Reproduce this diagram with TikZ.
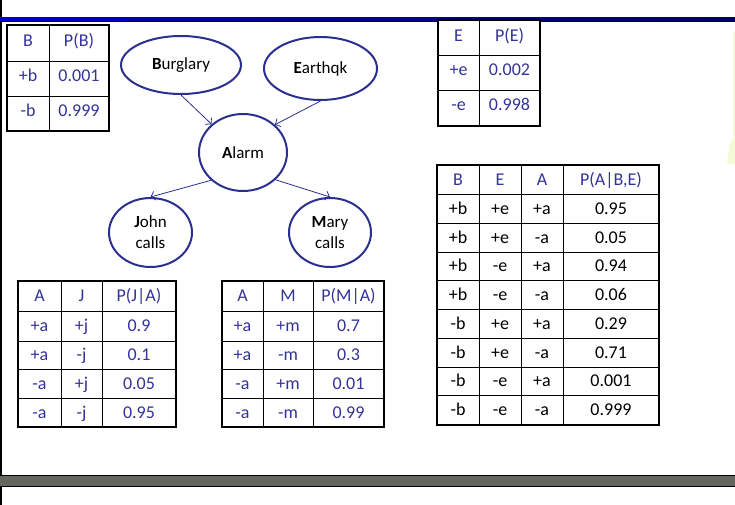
\documentclass[tikz,border=0pt]{standalone}
\usepackage{fontspec}
\setmainfont{Carlito}
\usetikzlibrary{shapes.geometric,arrows.meta}
\definecolor{tblue}{RGB}{51,51,153}
\definecolor{eblue}{RGB}{43,48,144}
\definecolor{bandgray}{RGB}{102,102,96}
\definecolor{paleyel}{RGB}{244,250,214}
\begin{document}
\begin{tikzpicture}[x=1pt,y=-1pt,
  bn/.style={ellipse, draw=eblue, line width=2pt, inner sep=0pt, align=center, text=black,
    font=\fontsize{17}{21}\selectfont},
  link/.style={draw=eblue, line width=0.8pt, -{Straight Barb[length=4pt,width=9pt]}},
  cell/.style={text=tblue, font=\fontsize{18}{21}\selectfont, text height=11.5pt, text depth=0pt, inner sep=0pt},
  cellk/.style={cell, text=black},
  gridline/.style={draw=black, line width=0.8pt},
  gridframe/.style={draw=black, line width=2pt}]
\useasboundingbox (0,0) rectangle (735,505);
\fill[white] (0,0) rectangle (735,505);
% top band
\fill[black] (0,16.7) rectangle (735,22.3);
\shade[left color={rgb,255:red,0;green,0;blue,195}, right color={rgb,255:red,0;green,0;blue,105}] (0,18) rectangle (735,21);
% bottom gray band
\fill[black] (0,474.8) rectangle (735,487);
\fill[bandgray] (0,476) rectangle (735,485.8);
% left edge line
\fill[black] (0,0) rectangle (1.6,16.7);
\fill[black] (0,22.3) rectangle (1.6,474.8);
\fill[black] (0,487) rectangle (1.6,505);
% pale sliver on right
\fill[paleyel] (733,32) -- (735,31) -- (735,164) -- (727,164) -- (730,142) -- (733,140) -- cycle;

% ---------- P(B) table ----------
\fill[white] (7,25) rectangle (109,131);
\draw[gridline] (49,25) -- (49,131);
\draw[gridline] (7,61) -- (109,61);
\draw[gridline] (7,96) -- (109,96);
\draw[gridframe] (7,25) rectangle (109,131);
\node[cell] (pb11) at (28,41) {B};
\node[cell] (pb12) at (79,41) {P(B)};
\node[cell] (pb21) at (28,75.5) {+b};
\node[cell] (pb22) at (79,75.5) {0.001};
\node[cell] (pb31) at (28,110.5) {-b};
\node[cell] (pb32) at (79,110.5) {0.999};

% ---------- P(E) table ----------
\fill[white] (438,20) rectangle (540,126);
\draw[gridline] (479,20) -- (479,126);
\draw[gridline] (438,55) -- (540,55);
\draw[gridline] (438,90) -- (540,90);
\draw[gridframe] (438,20) rectangle (540,126);
\node[cell] (pe11) at (458.5,35.5) {E};
\node[cell] (pe12) at (509.5,35.5) {P(E)};
\node[cell] (pe21) at (458.5,69.5) {+e};
\node[cell] (pe22) at (509.5,69.5) {0.002};
\node[cell] (pe31) at (458.5,105) {-e};
\node[cell] (pe32) at (509.5,105) {0.998};

% ---------- Bayes net ----------
\node[bn, minimum width=120pt, minimum height=58pt] (burg) at (181,65) {\textbf{B}urglary};
\node[bn, minimum width=113pt, minimum height=63pt] (earth) at (320.5,68.5) {\textbf{E}arthqk};
\node[bn, minimum width=88pt, minimum height=77pt] (alarm) at (243,152.5) {\textbf{A}larm};
\node[bn, minimum width=83pt, minimum height=69pt] (john) at (150.5,232.5) {\textbf{J}ohn\\calls};
\node[bn, minimum width=82pt, minimum height=69pt] (mary) at (330,232.5) {\textbf{M}ary\\calls};
\draw[link] (burg.south) -- (alarm.138);
\draw[link] (earth.south) -- (alarm.41);
\draw[link] (alarm.221) -- (john.north);
\draw[link] (alarm.320) -- (mary.north);

% ---------- P(J|A) table ----------
\fill[white] (18,281) rectangle (176,427);
\foreach \xx in {61,102} \draw[gridline] (\xx,281) -- (\xx,427);
\foreach \yy in {311,341,369,398} \draw[gridline] (18,\yy) -- (176,\yy);
\draw[gridframe] (18,281) rectangle (176,427);
\node[cell] (ja01) at (39.5,296) {A};
\node[cell] (ja02) at (81.5,296) {J};
\node[cell] (ja03) at (139,296) {P(J|A)};
\foreach \r/\yy/\a/\b/\p in {1/326/+a/+j/0.9, 2/355/+a/-j/0.1, 3/383.5/-a/+j/0.05, 4/412.5/-a/-j/0.95}{
  \node[cell] (ja\r1) at (39.5,\yy) {\a};
  \node[cell] (ja\r2) at (81.5,\yy) {\b};
  \node[cell] (ja\r3) at (139,\yy) {\p};
}

% ---------- P(M|A) table ----------
\fill[white] (222,281) rectangle (384,427);
\foreach \xx in {263,313} \draw[gridline] (\xx,281) -- (\xx,427);
\foreach \yy in {311,341,369,398} \draw[gridline] (222,\yy) -- (384,\yy);
\draw[gridframe] (222,281) rectangle (384,427);
\node[cell] (ma01) at (242.5,296) {A};
\node[cell] (ma02) at (288,296) {M};
\node[cell] (ma03) at (348.5,296) {P(M|A)};
\foreach \r/\yy/\a/\b/\p in {1/326/+a/+m/0.7, 2/355/+a/-m/0.3, 3/383.5/-a/+m/0.01, 4/412.5/-a/-m/0.99}{
  \node[cell] (ma\r1) at (242.5,\yy) {\a};
  \node[cell] (ma\r2) at (288,\yy) {\b};
  \node[cell] (ma\r3) at (348.5,\yy) {\p};
}

% ---------- P(A|B,E) table ----------
\fill[white] (437,165) rectangle (659,425);
\foreach \xx in {479,521,563} \draw[gridline] (\xx,165) -- (\xx,425);
\foreach \yy in {194,223,252,280,309,338,367,395} \draw[gridline] (437,\yy) -- (659,\yy);
\draw[gridframe] (437,165) rectangle (659,425);
\node[cell] (abe01) at (458,179.5) {B};
\node[cell] (abe02) at (500,179.5) {E};
\node[cell] (abe03) at (542,179.5) {A};
\node[cell] (abe04) at (611,179.5) {P(A|B,E)};
\foreach \r/\yy/\b/\e/\a/\p in {1/208.5/+b/+e/+a/0.95, 2/237.5/+b/+e/-a/0.05, 3/266/+b/-e/+a/0.94, 4/294.5/+b/-e/-a/0.06,
  5/323.5/-b/+e/+a/0.29, 6/352.5/-b/+e/-a/0.71, 7/381/-b/-e/+a/0.001, 8/410/-b/-e/-a/0.999}{
  \node[cellk] (abe\r1) at (458,\yy) {\b};
  \node[cellk] (abe\r2) at (500,\yy) {\e};
  \node[cellk] (abe\r3) at (542,\yy) {\a};
  \node[cellk] (abe\r4) at (611,\yy) {\p};
}
\end{tikzpicture}
\end{document}
